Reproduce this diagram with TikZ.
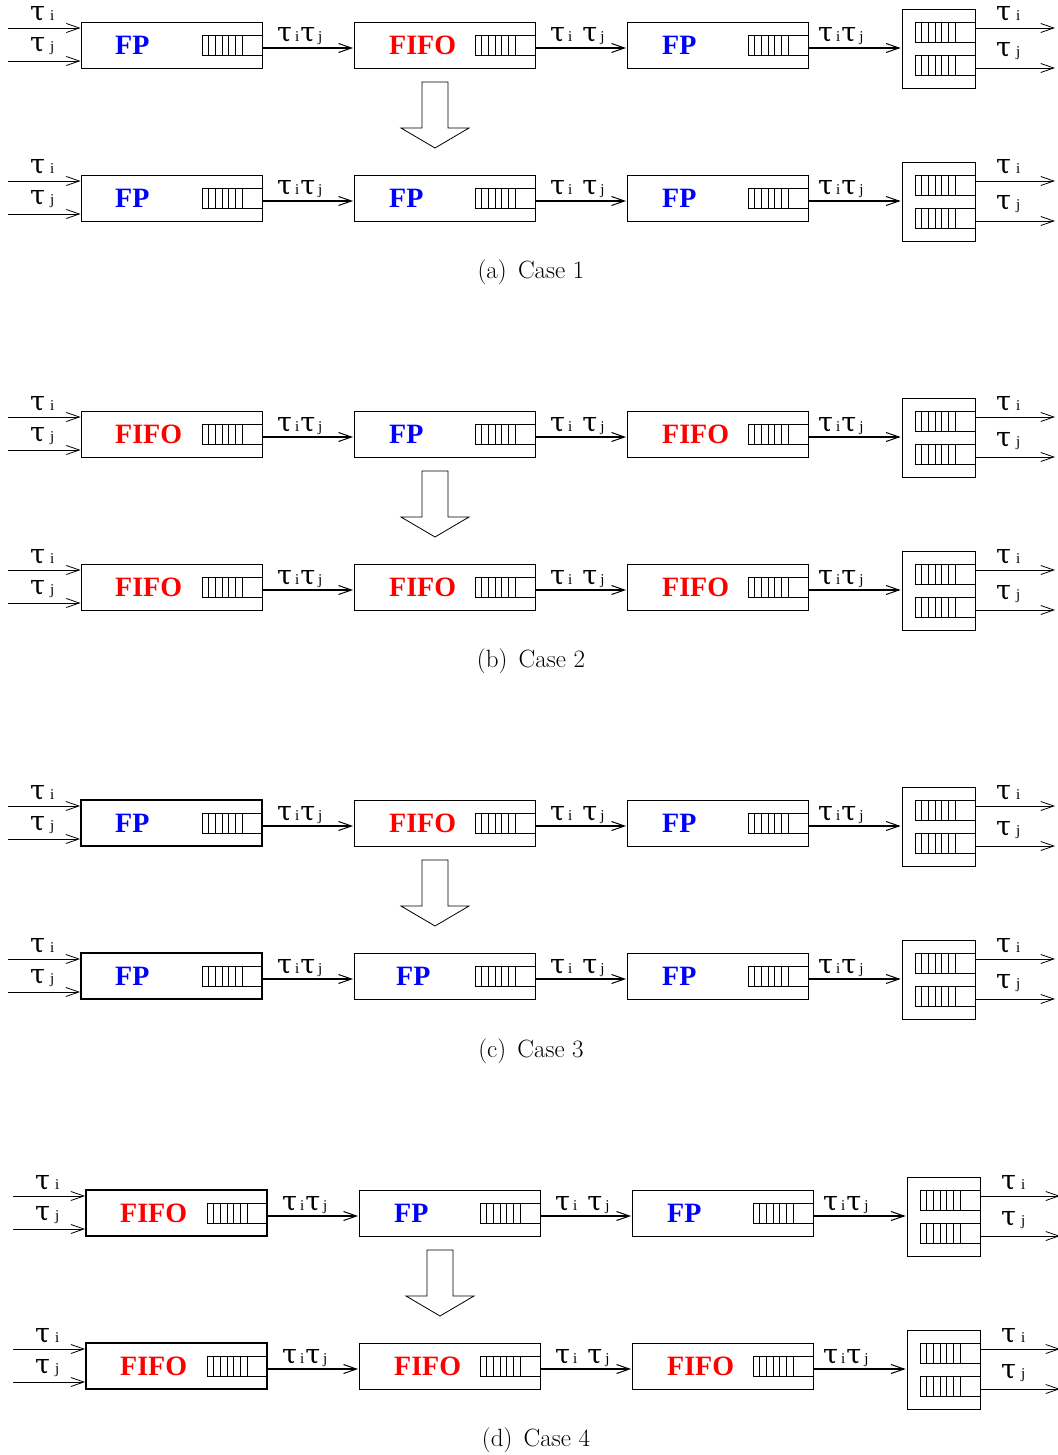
\documentclass[tikz,border=0pt]{standalone}
\usepackage{fontspec}
\usetikzlibrary{arrows.meta}
\newfontfamily\timesf{Liberation Serif}
\newfontfamily\taufont{DejaVu Serif}
\definecolor{fpblue}{RGB}{0,0,255}
\definecolor{fifored}{RGB}{255,0,0}
\newcommand\FPt{\textcolor{fpblue}{FP}}
\newcommand\FIFOt{\textcolor{fifored}{FIFO}}
\newcommand\Tau{{\taufont\fontsize{27}{27}\selectfont τ}}
\newcommand\Sub[1]{{\timesf\fontsize{15}{15}\selectfont #1}}
\newcommand\TiTj{\Tau\hspace{3pt}\Sub{i}\hspace{1pt}\Tau\hspace{3pt}\Sub{j}}
\newcommand\TiSpTj{\Tau\hspace{3pt}\Sub{i}\hspace{10pt}\Tau\hspace{3pt}\Sub{j}}
\newcommand\Ti{\Tau\hspace{5pt}\Sub{i}}
\newcommand\Tj{\Tau\hspace{5pt}\Sub{j}}
\tikzset{
  box/.style={draw, line width=0.9pt, minimum width=181pt, minimum height=46pt, inner sep=0pt},
  thickbox/.style={box, line width=1.8pt},
  fbox/.style={draw, line width=0.9pt, minimum width=73pt, minimum height=79pt, inner sep=0pt},
  qline/.style={line width=0.8pt},
  nm/.style={inner sep=0pt, font=\timesf\bfseries\fontsize{28}{28}\selectfont},
  lab/.style={inner sep=0pt, anchor=base west},
  inarr/.style={line width=0.8pt, -{Straight Barb[length=13pt,width=9pt,line width=0.8pt]}},
  conn/.style={line width=1.8pt, -{Straight Barb[length=13pt,width=9pt,line width=1pt]}},
  bigarr/.style={draw, line width=0.8pt, fill=white},
  captxt/.style={inner sep=0pt, font=\fontsize{25}{29}\selectfont}
}
\newcommand\qu[2]{%
  \draw[qline] (#1,#2-10) -- (#1-60,#2-10) -- (#1-60,#2+10) -- (#1,#2+10);
  \foreach \k in {1,...,6} \draw[qline] (#1-60+\k*6.67,#2-10) -- ++(0,20);}
% #1 prefix #2 xoff #3 yoff #4 t1 #5 t2 #6 t3 #7 box1 style
\newcommand\caserow[7]{%
\begin{scope}[shift={(#2,#3)}]
  \node[#7] (#1b1) at (171.5,45) {};
  \node[box] (#1b2) at (445,45) {};
  \node[box] (#1b3) at (718,45) {};
  \node[fbox] (#1b4) at (938.5,48.5) {};
  \node[nm, anchor=west] (#1n1) at (115,45.5) {#4};
  \node[nm, anchor=west] (#1n2) at (389,45.5) {#5};
  \node[nm, anchor=west] (#1n3) at (662,45.5) {#6};
  \qu{262}{45.3}\qu{535}{45.3}\qu{808}{45.3}
  \qu{975}{32}\qu{975}{65}
  \coordinate (#1i1) at (8,28);
  \coordinate (#1i2) at (8,61);
  \coordinate (#1o1) at (1055,28);
  \coordinate (#1o2) at (1055,68);
  \coordinate (#1c1) at ([yshift=-3pt]#1b1.east);
  \coordinate (#1c2) at ([yshift=-3pt]#1b2.east);
  \coordinate (#1c3) at ([yshift=-3pt]#1b3.east);
  \draw[inarr] (#1i1) -- (#1i1 -| #1b1.west);
  \draw[inarr] (#1i2) -- (#1i2 -| #1b1.west);
  \draw[inarr] (#1o1 -| #1b4.east) -- (#1o1);
  \draw[inarr] (#1o2 -| #1b4.east) -- (#1o2);
  \draw[conn] (#1c1) -- ([xshift=-1pt]#1c1 -| #1b2.west);
  \draw[conn] (#1c2) -- ([xshift=-1pt]#1c2 -| #1b3.west);
  \draw[conn] (#1c3) -- ([xshift=-1pt]#1c3 -| #1b4.west);
  \node[lab] (#1l1) at (30,21) {\Ti};
  \node[lab] (#1l2) at (30,52) {\Tj};
  \node[lab] (#1l3) at (277,42) {\TiTj};
  \node[lab] (#1l4) at (550,42) {\TiSpTj};
  \node[lab] (#1l5) at (818,42) {\TiTj};
  \node[lab] (#1l6) at (996,21) {\Ti};
  \node[lab] (#1l7) at (996,57) {\Tj};
\end{scope}}
\newcommand\downarr[2]{%
  \draw[bigarr,shift={(#1,#2)}] (422,82) -- (448,82) -- (448,128) -- (469,128) -- (435,148) -- (401,128) -- (422,128) -- cycle;}
\begin{document}
\begin{tikzpicture}[x=1pt,y=-1pt]
\useasboundingbox (0,0) rectangle (1057,1455);
% (a)
\caserow{a1}{0}{0}{\FPt}{\FIFOt}{\FPt}{box}
\downarr{0}{0}
\caserow{a2}{0}{153}{\FPt}{\FPt}{\FPt}{box}
\node[captxt] (capa) at (531,272) {(a)\hspace{0.45em}Case 1};
% (b)
\caserow{b1}{0}{389}{\FIFOt}{\FPt}{\FIFOt}{box}
\downarr{0}{389}
\caserow{b2}{0}{542}{\FIFOt}{\FIFOt}{\FIFOt}{box}
\node[captxt] (capb) at (531,661) {(b)\hspace{0.45em}Case 2};
% (c)
\caserow{c1}{0}{778}{\FPt}{\FIFOt}{\FPt}{thickbox}
\downarr{0}{778}
\caserow{c2}{0}{931}{\FPt}{\hspace{7pt}\FPt}{\FPt}{thickbox}
\node[captxt] (capc) at (531,1051) {(c)\hspace{0.45em}Case 3};
% (d)
\caserow{d1}{5}{1168}{\FIFOt}{\FPt}{\FPt}{thickbox}
\downarr{5}{1168}
\caserow{d2}{5}{1321}{\FIFOt}{\FIFOt}{\FIFOt}{thickbox}
\node[captxt] (capd) at (536,1440) {(d)\hspace{0.45em}Case 4};
\end{tikzpicture}
\end{document}
